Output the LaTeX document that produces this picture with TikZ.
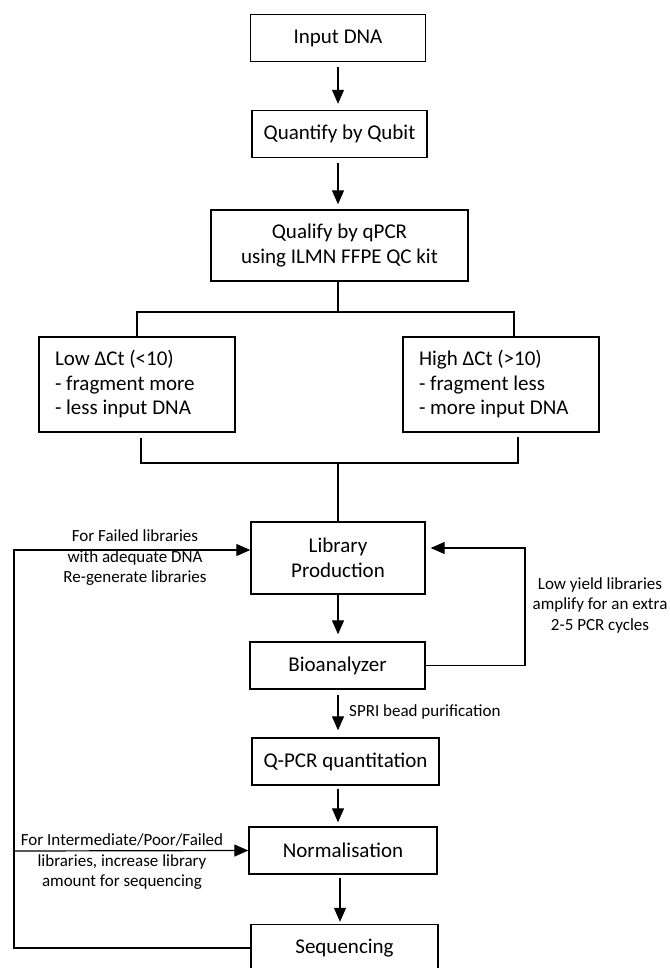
\documentclass[tikz,border=0pt]{standalone}
\usepackage{fontspec}
\setmainfont{Carlito}
\usetikzlibrary{arrows.meta}

\begin{document}
\begin{tikzpicture}[
    x=1pt, y=-1pt,
    box/.style={
        rectangle,
        draw,
        line width=1.4pt,
        minimum width=175pt,
        minimum height=47pt,
        inner sep=0pt,
        align=center,
        font=\fontsize{21}{24.5}\selectfont
    },
    casebox/.style={
        box,
        minimum width=196pt,
        minimum height=95pt,
        text width=164pt,
        inner xsep=16pt,
        align=flush left
    },
    note/.style={
        inner sep=0pt,
        align=center,
        font=\fontsize{17}{20.5}\selectfont
    },
    >={Triangle[width=12pt,length=14pt]}
]
\useasboundingbox (0,0) rectangle (669,968);

% 노드
\node[box] (input) at (338,38) {Input DNA};
\node[box] (qubit) at (339.5,134) {Quantify by Qubit};
\node[box, minimum width=257pt, minimum height=71pt] (qualify) at (339.5,245.5) {Qualify by qPCR\\using ILMN FFPE QC kit};
\node[casebox] (low) at (137,384.5) {Low ΔCt (<10)\\- fragment more\\- less input DNA};
\node[casebox] (high) at (501,384.5) {High ΔCt (>10)\\- fragment less\\- more input DNA};
\node[box, minimum width=174pt, minimum height=72pt] (library) at (338,558) {Library\\Production};
\node[box] (bio) at (337.5,665.5) {Bioanalyzer};
\node[box, minimum width=187pt] (qpcr) at (345.5,761.5) {Q-PCR quantitation};
\node[box, minimum width=188pt] (norm) at (343,850.5) {Normalisation};
\node[box, minimum width=187pt] (seq) at (344.5,948) {Sequencing};

% 설명
\node[note] (fail) at (135,558) {For Failed libraries\\with adequate DNA\\Re-generate libraries};
\node[note] (yield) at (600,605) {Low yield libraries\\amplify for an extra\\2-5 PCR cycles};
\node[note, anchor=west] (spri) at (349,712) {SPRI bead purification};
\node[note] (inter) at (122,862) {For Intermediate/Poor/Failed\\libraries, increase library\\amount for sequencing};

% 분기점
\coordinate (split) at (338,312);
\coordinate (lowtop) at (137,312);
\coordinate (hightop) at (514,312);
\coordinate (merge) at (338,463);
\coordinate (lowbot) at (141,463);
\coordinate (highbot) at (518,463);
\coordinate (lcorner) at (14,550);
\coordinate (lbranch) at (14,851);
\coordinate (rcorner) at (525,548);

% 간선
\draw[->, line width=1.2pt, shorten <=5pt, shorten >=6pt] (input.south) -- (input.south |- qubit.north);
\draw[->, line width=1.2pt, shorten <=5pt, shorten >=5pt] (qubit.south -| input) -- (qualify.north -| input);

\draw[line width=1.2pt] (qualify.south -| split) -- (split);
\draw[line width=1.2pt] (low.north) -- (lowtop) -- (hightop) -- (hightop |- high.north);
\draw[line width=1.2pt] (lowbot |- low.south) ++(0,5) -- (lowbot) -- (highbot) -- ++(0,-26);
\draw[line width=1.2pt] (merge) -- (library);

\draw[->, line width=1.2pt, shorten >=7pt] (library.south) -- (library.south |- bio.north);
\draw[->, line width=1.2pt, shorten <=5pt, shorten >=7pt] (bio.south -| library) -- (qpcr.north -| library);
\draw[->, line width=1.2pt, shorten <=3pt, shorten >=4pt] (qpcr.south -| library) -- (norm.north -| library);
\draw[->, line width=1.2pt, shorten <=3pt, shorten >=2pt] (norm.south -| 340,0) -- (seq.north -| 340,0);

\draw[->, line width=1.2pt] (seq.west) -| (lcorner) -- (lcorner -| library.west);
\draw[->, line width=1.2pt] (lbranch) -- (norm.west);
\draw[->, line width=1.2pt, shorten >=5pt] (bio.east) -| (rcorner) -- (rcorner -| library.east);

\end{tikzpicture}
\end{document}
